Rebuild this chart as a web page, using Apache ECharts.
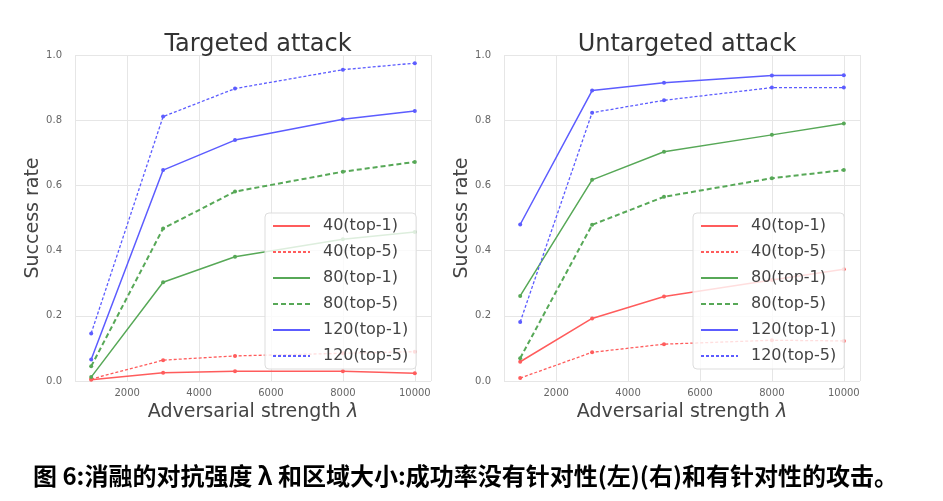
<!DOCTYPE html>
<html>
<head>
<meta charset="utf-8">
<script src="https://cdn.jsdelivr.net/npm/echarts@6/dist/echarts.min.js"></script>
<style>
html,body{margin:0;padding:0;background:#fff;}
#c{width:943px;height:501px;}
</style>
</head>
<body>
<div id="c"></div>
<script>
// ---- data ----
const strengths = [1000, 3000, 5000, 8000, 10000];
const seriesNames = ['40(top-1)', '40(top-5)', '80(top-1)', '80(top-5)', '120(top-1)', '120(top-5)'];
const xTicks = [2000, 4000, 6000, 8000, 10000];
const yTicks = [0.0, 0.2, 0.4, 0.6, 0.8, 1.0];
const chartTitles = ['Targeted attack', 'Untargeted attack'];
const xAxisTitle = 'Adversarial strength ';
const yAxisTitle = 'Success rate';
const caption = '图 6:消融的对抗强度 λ 和区域大小:成功率没有针对性(左)(右)和有针对性的攻击。';

// Targeted attack (left)
const t40top1  = [0.004, 0.025, 0.030, 0.030, 0.024];
const t40top5  = [0.006, 0.064, 0.077, 0.085, 0.090];
const t80top1  = [0.012, 0.303, 0.381, 0.435, 0.457];
const t80top5  = [0.045, 0.468, 0.581, 0.642, 0.672];
const t120top1 = [0.066, 0.647, 0.739, 0.803, 0.828];
const t120top5 = [0.146, 0.811, 0.897, 0.955, 0.975];

// Untargeted attack (right)
const u40top1  = [0.059, 0.192, 0.259, 0.310, 0.343];
const u40top5  = [0.009, 0.088, 0.113, 0.125, 0.123];
const u80top1  = [0.261, 0.617, 0.703, 0.755, 0.790];
const u80top5  = [0.070, 0.479, 0.565, 0.622, 0.647];
const u120top1 = [0.480, 0.891, 0.915, 0.937, 0.938];
const u120top5 = [0.181, 0.823, 0.861, 0.900, 0.900];

const leftData  = [t40top1, t40top5, t80top1, t80top5, t120top1, t120top5];
const rightData = [u40top1, u40top5, u80top1, u80top5, u120top1, u120top5];

// ---- styles ----
const colors = ['#ff5c5c', '#ff5c5c', '#57a857', '#57a857', '#5c5cff', '#5c5cff'];
const lineTypes = ['solid', [3, 2], 'solid', [5, 3], 'solid', [3, 2]];
const lineWidths = [1.5, 1.3, 1.5, 2, 1.5, 1.3];
const font = 'DejaVu Sans';

const chart = echarts.init(document.getElementById('c'), null, {renderer: 'canvas'});

const grids = [
  {left: 75, top: 55, width: 356, height: 326},
  {left: 504, top: 55, width: 356, height: 326}
];

function xAxis(i) {
  return {
    type: 'value', gridIndex: i, min: 550, max: 10450, splitNumber: 5,
    axisLine: {show: false}, axisTick: {show: false},
    axisLabel: {
      showMinLabel: false, showMaxLabel: false,
      color: '#666', fontFamily: font, fontSize: 10, margin: 7,
      formatter: v => xTicks.indexOf(v) >= 0 ? String(v) : ''
    },
    splitLine: {show: true, lineStyle: {color: '#e6e6e6', width: 1}},
    name: xAxisTitle + '{i|λ}', nameLocation: 'middle', nameGap: 17,
    nameTextStyle: {color: '#444', fontFamily: font, fontSize: 19,
      rich: {i: {fontStyle: 'italic', fontFamily: font, fontSize: 19, color: '#444'}}}
  };
}
function yAxis(i) {
  return {
    type: 'value', gridIndex: i, min: 0, max: 1, interval: 0.2,
    axisLine: {show: false}, axisTick: {show: false},
    axisLabel: {color: '#666', fontFamily: font, fontSize: 10, margin: 13,
      formatter: v => v.toFixed(1)},
    splitLine: {show: true, lineStyle: {color: '#e6e6e6', width: 1}},
    name: yAxisTitle, nameLocation: 'middle', nameGap: 28,
    nameTextStyle: {color: '#444', fontFamily: font, fontSize: 19}
  };
}

const series = [];
[leftData, rightData].forEach((set, gi) => {
  set.forEach((vals, k) => {
    series.push({
      type: 'line', name: seriesNames[k], xAxisIndex: gi, yAxisIndex: gi,
      data: strengths.map((x, j) => [x, vals[j]]),
      symbol: 'circle', symbolSize: 4, showSymbol: true,
      itemStyle: {color: colors[k]},
      lineStyle: {color: colors[k], width: lineWidths[k], type: lineTypes[k]},
      emphasis: {disabled: true}, animation: false, z: 2
    });
  });
});

function legend(left) {
  return {
    data: seriesNames, orient: 'vertical', left: left, top: 213,
    itemWidth: 37, itemHeight: 14, itemGap: 10,
    padding: [5, 8, 5, 7],
    backgroundColor: 'rgba(255,255,255,0.8)', borderColor: '#dddddd', borderWidth: 1, borderRadius: 4,
    itemStyle: {color: 'transparent', borderColor: 'transparent', borderWidth: 0},
    textStyle: {color: '#444', fontFamily: font, fontSize: 16, padding: [0, 0, 0, 8]},
    selectedMode: false
  };
}

chart.setOption({
  backgroundColor: '#ffffff',
  animation: false,
  title: [
    {text: chartTitles[0], left: 253, top: 28, textAlign: 'center',
     textStyle: {color: '#333', fontFamily: font, fontSize: 24, fontWeight: 'normal'}},
    {text: chartTitles[1], left: 682, top: 28, textAlign: 'center',
     textStyle: {color: '#333', fontFamily: font, fontSize: 24, fontWeight: 'normal'}}
  ],
  grid: grids,
  xAxis: [xAxis(0), xAxis(1)],
  yAxis: [yAxis(0), yAxis(1)],
  legend: [legend(265), legend(693)],
  series: series,
  graphic: [{
    type: 'text', left: 33, top: 464,
    style: {text: caption, fill: '#000', font: 'bold 24px "Noto Sans CJK SC"'}
  }]
});
</script>
</body>
</html>
